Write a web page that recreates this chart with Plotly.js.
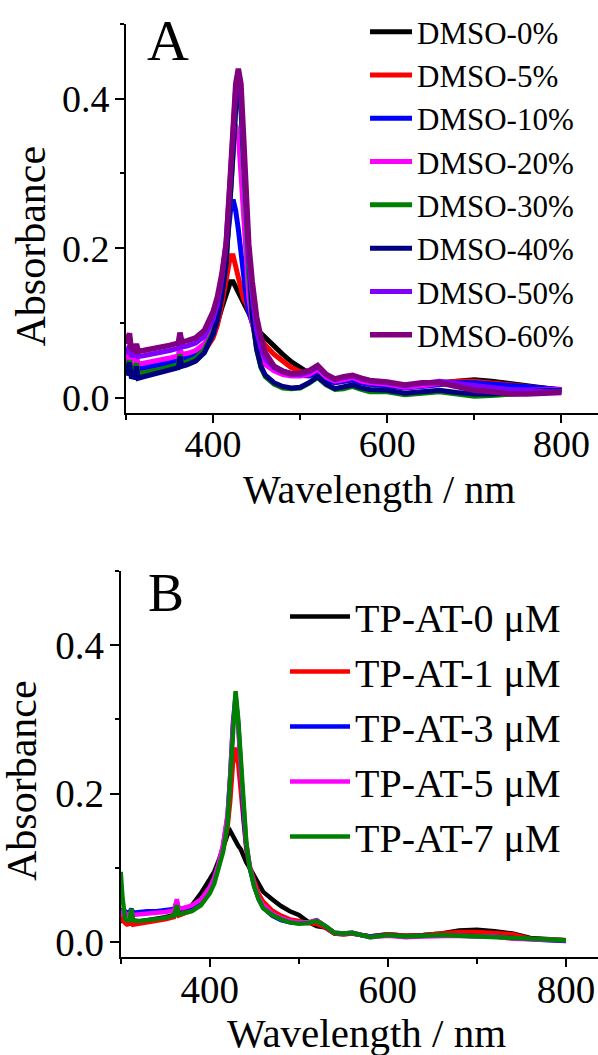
<!DOCTYPE html>
<html>
<head>
<meta charset="utf-8">
<script src="https://cdn.plot.ly/plotly-3.0.1.min.js"></script>
<style>html,body{margin:0;padding:0;background:#fff;}#chart{width:598px;height:1055px;}</style>
</head>
<body>
<div id="chart"></div>
<script>
// ---------- Panel A data (wavelength nm / absorbance) ----------
const wlA = [300,304,306,310,312,314,320,330,340,350,360,362,364,370,380,390,400,405,410,415,420,423,426,429,432,435,438,441,445,450,455,460,470,480,490,500,510,520,530,540,550,560,570,580,600,620,640,660,680,700,720,740,760,780,800];
const namesA = ["DMSO-0%","DMSO-5%","DMSO-10%","DMSO-20%","DMSO-30%","DMSO-40%","DMSO-50%","DMSO-60%"];
const colorsA = ["#000000","#FF0000","#0000FF","#FF00FF","#008000","#000080","#8000FF","#800080"];
const dmso0 = [0.030,0.045,0.030,0.029,0.040,0.028,0.029,0.032,0.034,0.037,0.041,0.055,0.043,0.045,0.050,0.062,0.085,0.100,0.120,0.140,0.155,0.155,0.148,0.140,0.132,0.125,0.118,0.112,0.102,0.092,0.086,0.080,0.068,0.058,0.048,0.040,0.033,0.035,0.025,0.022,0.024,0.026,0.022,0.020,0.019,0.016,0.018,0.020,0.023,0.024,0.022,0.019,0.016,0.012,0.010];
const dmso5 = [0.040,0.052,0.038,0.037,0.048,0.036,0.037,0.039,0.041,0.044,0.047,0.060,0.049,0.050,0.054,0.062,0.080,0.097,0.125,0.160,0.190,0.190,0.175,0.155,0.140,0.132,0.126,0.115,0.100,0.088,0.080,0.070,0.058,0.048,0.040,0.035,0.030,0.032,0.024,0.020,0.022,0.024,0.020,0.018,0.017,0.014,0.016,0.019,0.022,0.022,0.020,0.017,0.015,0.012,0.010];
const dmso10 = [0.042,0.055,0.041,0.040,0.050,0.039,0.040,0.042,0.044,0.047,0.050,0.063,0.052,0.053,0.057,0.066,0.085,0.105,0.140,0.190,0.250,0.265,0.250,0.225,0.200,0.165,0.135,0.115,0.100,0.078,0.062,0.052,0.042,0.036,0.032,0.030,0.029,0.033,0.024,0.020,0.022,0.024,0.020,0.018,0.016,0.013,0.015,0.017,0.020,0.020,0.018,0.016,0.014,0.012,0.011];
const dmso20 = [0.048,0.060,0.047,0.046,0.056,0.045,0.046,0.048,0.050,0.053,0.056,0.068,0.058,0.059,0.063,0.072,0.092,0.112,0.145,0.200,0.280,0.340,0.365,0.350,0.300,0.240,0.180,0.135,0.100,0.070,0.053,0.044,0.036,0.031,0.029,0.029,0.031,0.038,0.027,0.022,0.024,0.027,0.022,0.020,0.018,0.014,0.016,0.019,0.018,0.015,0.013,0.010,0.010,0.011,0.011];
const dmso30 = [0.036,0.050,0.035,0.033,0.046,0.032,0.033,0.035,0.038,0.041,0.044,0.058,0.046,0.048,0.053,0.064,0.088,0.108,0.138,0.180,0.260,0.325,0.385,0.410,0.385,0.315,0.235,0.165,0.108,0.064,0.040,0.028,0.018,0.013,0.012,0.013,0.019,0.027,0.017,0.011,0.012,0.015,0.011,0.008,0.008,0.004,0.006,0.008,0.005,0.002,0.003,0.004,0.006,0.008,0.009];
const dmso40 = [0.030,0.047,0.028,0.027,0.042,0.026,0.028,0.031,0.034,0.037,0.040,0.055,0.042,0.044,0.049,0.060,0.085,0.105,0.135,0.180,0.260,0.330,0.390,0.420,0.390,0.320,0.240,0.170,0.110,0.065,0.042,0.030,0.020,0.015,0.013,0.014,0.020,0.028,0.018,0.012,0.014,0.017,0.013,0.011,0.010,0.006,0.008,0.010,0.007,0.005,0.005,0.006,0.009,0.010,0.010];
const dmso50 = [0.058,0.070,0.057,0.056,0.066,0.055,0.056,0.058,0.060,0.063,0.066,0.079,0.068,0.069,0.073,0.082,0.105,0.125,0.160,0.210,0.300,0.370,0.415,0.430,0.405,0.330,0.250,0.185,0.135,0.090,0.066,0.052,0.040,0.034,0.031,0.031,0.034,0.041,0.030,0.024,0.027,0.029,0.025,0.022,0.020,0.016,0.019,0.022,0.019,0.016,0.014,0.011,0.010,0.008,0.008];
const dmso60 = [0.072,0.086,0.066,0.063,0.072,0.062,0.063,0.065,0.067,0.070,0.073,0.087,0.075,0.076,0.080,0.090,0.115,0.135,0.165,0.205,0.300,0.370,0.420,0.440,0.420,0.350,0.270,0.205,0.155,0.108,0.080,0.060,0.042,0.035,0.032,0.033,0.036,0.043,0.031,0.025,0.028,0.030,0.026,0.023,0.021,0.017,0.020,0.020,0.015,0.010,0.008,0.005,0.005,0.006,0.007];
const seriesA = [dmso0,dmso5,dmso10,dmso20,dmso30,dmso40,dmso50,dmso60];

// ---------- Panel B data ----------
const wlB = [300,302,305,307,310,312,314,320,330,340,350,360,363,365,370,380,390,400,405,410,415,420,423,426,429,432,435,438,441,445,450,455,460,470,480,490,500,510,520,530,540,550,560,570,580,600,620,640,660,680,700,720,740,760,780,800];
const namesB = ["TP-AT-0 \u03bcM","TP-AT-1 \u03bcM","TP-AT-3 \u03bcM","TP-AT-5 \u03bcM","TP-AT-7 \u03bcM"];
const colorsB = ["#000000","#FF0000","#0000FF","#FF00FF","#008000"];
const tp0 = [0.040,0.030,0.032,0.028,0.027,0.036,0.027,0.028,0.030,0.032,0.034,0.037,0.045,0.039,0.041,0.050,0.066,0.085,0.095,0.110,0.128,0.145,0.150,0.143,0.135,0.130,0.125,0.115,0.108,0.100,0.090,0.078,0.068,0.058,0.049,0.042,0.037,0.028,0.022,0.020,0.012,0.011,0.012,0.010,0.008,0.011,0.009,0.010,0.012,0.016,0.017,0.015,0.012,0.006,0.004,0.003];
const tp1 = [0.040,0.030,0.026,0.024,0.025,0.033,0.024,0.025,0.027,0.028,0.031,0.034,0.042,0.036,0.038,0.043,0.052,0.070,0.083,0.102,0.125,0.155,0.190,0.240,0.262,0.240,0.200,0.155,0.125,0.100,0.082,0.065,0.055,0.043,0.036,0.031,0.029,0.026,0.025,0.020,0.012,0.011,0.012,0.010,0.008,0.011,0.009,0.010,0.012,0.014,0.014,0.013,0.011,0.005,0.004,0.003];
const tp3 = [0.046,0.038,0.042,0.040,0.041,0.045,0.040,0.041,0.042,0.042,0.043,0.045,0.055,0.046,0.046,0.048,0.056,0.072,0.085,0.104,0.130,0.170,0.225,0.295,0.332,0.295,0.235,0.168,0.130,0.100,0.075,0.058,0.047,0.036,0.030,0.027,0.026,0.026,0.030,0.022,0.013,0.012,0.013,0.010,0.008,0.010,0.008,0.009,0.010,0.009,0.009,0.008,0.006,0.004,0.003,0.002];
const tp5 = [0.044,0.036,0.040,0.037,0.038,0.043,0.037,0.038,0.039,0.040,0.041,0.043,0.058,0.046,0.046,0.050,0.058,0.074,0.087,0.106,0.132,0.172,0.225,0.290,0.326,0.290,0.232,0.170,0.133,0.103,0.078,0.060,0.050,0.039,0.033,0.029,0.027,0.027,0.030,0.022,0.013,0.012,0.013,0.010,0.007,0.009,0.007,0.008,0.009,0.009,0.008,0.008,0.005,0.004,0.003,0.003];
const tp7 = [0.095,0.060,0.032,0.030,0.030,0.045,0.030,0.029,0.030,0.031,0.033,0.036,0.050,0.038,0.039,0.042,0.050,0.066,0.079,0.098,0.122,0.160,0.220,0.300,0.338,0.300,0.240,0.170,0.135,0.100,0.075,0.058,0.046,0.037,0.031,0.027,0.025,0.026,0.029,0.022,0.013,0.012,0.013,0.010,0.007,0.010,0.008,0.009,0.010,0.009,0.008,0.007,0.006,0.004,0.003,0.003];
const seriesB = [tp0,tp1,tp3,tp5,tp7];

const FONT = "Liberation Serif, Tinos, Times New Roman, Times, DejaVu Serif, serif";
const W = 598, H = 1055;
const px = v => v / W;
const py = v => 1 - v / H;

const traces = [];
seriesA.forEach((s, i) => traces.push({
  x: wlA, y: s, type: 'scatter', mode: 'lines', name: namesA[i],
  line: {color: colorsA[i], width: i === 7 ? 5.5 : 5}, xaxis: 'x', yaxis: 'y', legend: 'legend'
}));
seriesB.forEach((s, i) => traces.push({
  x: wlB, y: s, type: 'scatter', mode: 'lines', name: namesB[i],
  line: {color: colorsB[i], width: 4.5}, xaxis: 'x2', yaxis: 'y2', legend: 'legend2'
}));

function xax(domain, range, anchor, size) {
  return {
    domain: domain, range: range, anchor: anchor,
    showline: true, linecolor: '#000', linewidth: 2, mirror: false,
    showgrid: false, zeroline: false,
    ticks: 'outside', ticklen: 8, tickwidth: 2, tickcolor: '#000',
    tick0: 400, dtick: 200, ticklabelstandoff: -11,
    minor: {ticks: 'outside', tick0: 300, dtick: 100, ticklen: 5, tickwidth: 2, tickcolor: '#000', showgrid: false},
    tickfont: {family: FONT, size: size, color: '#000'}, automargin: false
  };
}
function yax(domain, anchor, size) {
  return {
    domain: domain, range: [-0.02, 0.5], anchor: anchor,
    showline: true, linecolor: '#000', linewidth: 2, mirror: false,
    showgrid: false, zeroline: false,
    ticks: 'outside', ticklen: 9, tickwidth: 2, tickcolor: '#000',
    tick0: 0, dtick: 0.2, tickformat: '.1f', ticklabelstandoff: -2,
    minor: {ticks: 'outside', tick0: 0, dtick: 0.1, ticklen: 4, tickwidth: 2, tickcolor: '#000', showgrid: false},
    tickfont: {family: FONT, size: size, color: '#000'}, automargin: false
  };
}

const layout = {
  width: W, height: H, autosize: false,
  margin: {l: 0, r: 0, t: 0, b: 0},
  paper_bgcolor: '#fff', plot_bgcolor: '#fff',
  font: {family: FONT, color: '#000'},
  xaxis: xax([px(126), 1], [300, 842], 'y', 38),
  yaxis: yax([py(412.6), py(24)], 'x', 38),
  xaxis2: xax([px(120.7), 1], [300, 836], 'y2', 39),
  yaxis2: yax([py(957.3), py(570.7)], 'x2', 39),
  legend: {
    x: px(365), y: py(5), xanchor: 'left', yanchor: 'top',
    bgcolor: 'rgba(0,0,0,0)', borderwidth: 0, itemwidth: 42,
    font: {family: FONT, size: 31, color: '#000'}, tracegroupgap: 0
  },
  legend2: {
    x: px(285), y: py(584), xanchor: 'left', yanchor: 'top',
    bgcolor: 'rgba(0,0,0,0)', borderwidth: 0, itemwidth: 60,
    font: {family: FONT, size: 40, color: '#000'}, tracegroupgap: 0
  },
  annotations: [
    {text: 'A', xref: 'paper', yref: 'paper', x: px(168), y: py(41), xanchor: 'center', yanchor: 'middle', showarrow: false, font: {family: FONT, size: 58, color: '#000'}},
    {text: 'B', xref: 'paper', yref: 'paper', x: px(166), y: py(593), xanchor: 'center', yanchor: 'middle', showarrow: false, font: {family: FONT, size: 54, color: '#000'}},
    {text: 'Absorbance', xref: 'paper', yref: 'paper', x: px(30), y: py(246.5), xanchor: 'center', yanchor: 'middle', textangle: -90, showarrow: false, font: {family: FONT, size: 42, color: '#000'}},
    {text: 'Absorbance', xref: 'paper', yref: 'paper', x: px(22), y: py(781), xanchor: 'center', yanchor: 'middle', textangle: -90, showarrow: false, font: {family: FONT, size: 42, color: '#000'}},
    {text: 'Wavelength / nm', xref: 'paper', yref: 'paper', x: px(378.5), y: py(489), xanchor: 'center', yanchor: 'middle', showarrow: false, font: {family: FONT, size: 40, color: '#000'}},
    {text: 'Wavelength / nm', xref: 'paper', yref: 'paper', x: px(366), y: py(1033), xanchor: 'center', yanchor: 'middle', showarrow: false, font: {family: FONT, size: 41, color: '#000'}}
  ],
  showlegend: true
};

Plotly.newPlot('chart', traces, layout, {staticPlot: true, displayModeBar: false});
</script>
</body>
</html>
